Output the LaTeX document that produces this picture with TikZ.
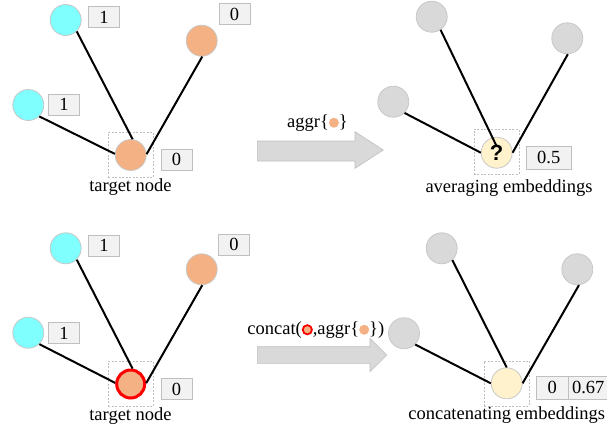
\documentclass[tikz,border=0pt]{standalone}
\usepackage{fontspec}
\setmainfont{Liberation Serif}
\newfontfamily\qsans{Liberation Sans}
\usetikzlibrary{calc}
\definecolor{cyanc}{RGB}{128,255,255}
\definecolor{orangec}{RGB}{244,177,131}
\definecolor{grayc}{RGB}{217,217,217}
\definecolor{yellowc}{RGB}{255,242,204}
\definecolor{boxfill}{RGB}{242,242,242}
\definecolor{boxline}{RGB}{191,191,191}
\definecolor{vline}{RGB}{200,200,200}
\tikzset{
  vert/.style={circle, minimum size=31pt, inner sep=0pt, draw=vline, line width=0.8pt},
  cyanv/.style={vert, fill=cyanc},
  orangev/.style={vert, fill=orangec},
  grayv/.style={vert, fill=grayc},
  yellowv/.style={vert, fill=yellowc},
  redv/.style={vert, fill=orangec, draw=red, line width=3pt, minimum size=28pt},
  lbox/.style={draw=boxline, fill=boxfill, line width=0.8pt, minimum width=31pt, minimum height=21pt, inner sep=0pt, font=\fontsize{18.5}{20}\selectfont},
  dbox/.style={draw=boxline, dashed, dash pattern=on 2pt off 1.5pt, line width=0.6pt, minimum size=45pt, inner sep=0pt},
  txt/.style={inner sep=0pt, font=\fontsize{18.5}{20}\selectfont},
  edge/.style={line width=2pt, black},
  bigarrow/.style={fill=grayc, draw=boxline, line width=0.6pt}
}
\newcommand{\orgdot}{\tikz[baseline=-0.55ex]\fill[orangec] (0,0) circle (5pt);}
\newcommand{\reddot}{\tikz[baseline=-0.55ex]\draw[red, line width=1.8pt, fill=orangec] (0,0) circle (4.6pt);}
\begin{document}
\begin{tikzpicture}[x=1pt, y=-1pt]
\useasboundingbox (0,0) rectangle (607,429);

% ---------- top-left ----------
\node[dbox] (d1) at (130.5,154.5) {};
\node[cyanv] (a1) at (65.7,20) {};
\node[orangev] (a2) at (201.7,40.7) {};
\node[cyanv] (a3) at (28.3,105) {};
\node[orangev] (a0) at (130.7,155) {};
\node[lbox] (la1) at (104,17) {1};
\node[lbox] (la2) at (234.5,14) {0};
\node[lbox] (la3) at (64,104.5) {1};
\node[lbox] (la0) at (176.5,159.5) {0};
\node[txt] (ta) at (130.5,187) {target node};
\draw[edge] (a1.-46) -- (a0.83);
\draw[edge] (a2.-88) -- (a0.3);
\draw[edge] (a3.-46) -- (a0.176);

% ---------- top arrow ----------
\draw[bigarrow] (257.3,141) -- (355,141) -- (355,131.7) -- (383.3,150) -- (355,168.3) -- (355,161) -- (257.3,161) -- cycle;
\node[txt] (ar1) at (317.5,123) {aggr\{\orgdot\}};

% ---------- top-right ----------
\node[dbox] (d2) at (496.3,151.7) {};
\node[grayv] (b1) at (431.7,16.7) {};
\node[grayv] (b2) at (567.3,38.3) {};
\node[grayv] (b3) at (393.3,101.7) {};
\node[yellowv] (b0) at (496.7,152.7) {\qsans\bfseries\fontsize{22}{22}\selectfont ?};
\node[lbox, minimum width=45.7pt, minimum height=23pt] (lb0) at (548.8,157.7) {0.5};
\node[txt] (tb) at (509,188) {averaging embeddings};
\draw[edge] (b1.-56) -- ($(b0.center)!0.4!(b0.north)$);
\draw[edge] (b2.-88) -- (b0.east);
\draw[edge] (b3.-45) -- (b0.west);

% ---------- bottom-left ----------
\node[dbox] (d3) at (130.5,383.5) {};
\node[cyanv] (c1) at (65.7,248.3) {};
\node[orangev] (c2) at (201.7,269.3) {};
\node[cyanv] (c3) at (28.3,332.7) {};
\node[redv] (c0) at (130.7,384) {};
\node[lbox] (lc1) at (104,245.5) {1};
\node[lbox] (lc2) at (234,244.5) {0};
\node[lbox] (lc3) at (64,333) {1};
\node[lbox] (lc0) at (176.5,389) {0};
\node[txt] (tc) at (130.5,416.5) {target node};
\draw[edge] (c1.-46) -- (c0.83);
\draw[edge] (c2.-88) -- (c0.3);
\draw[edge] (c3.-46) -- (c0.176);

% ---------- bottom arrow ----------
\draw[bigarrow] (257.3,346.7) -- (370,346.7) -- (370,338.3) -- (386.7,355) -- (370,371.7) -- (370,363.3) -- (257.3,363.3) -- cycle;
\node[txt] (ar2) at (315.8,330) {concat(\reddot,aggr\{\orgdot\})};

% ---------- bottom-right ----------
\node[dbox] (d4) at (506.7,383.3) {};
\node[grayv] (e1) at (441.7,248.3) {};
\node[grayv] (e2) at (577.3,269.3) {};
\node[grayv] (e3) at (404,333.3) {};
\node[yellowv] (e0) at (506.7,383.3) {};
\node[lbox, minimum width=32.3pt, minimum height=23pt] (le0) at (552.2,387.7) {0};
\node[lbox, minimum width=39pt, minimum height=23pt, anchor=west] (le1) at (568.3,387.7) {0.67};
\node[txt] (te) at (506.7,415) {concatenating embeddings};
\draw[edge] (e1.-48) -- (e0.north);
\draw[edge] (e2.-84) -- (e0.east);
\draw[edge] (e3.-45) -- (e0.west);
\end{tikzpicture}
\end{document}
